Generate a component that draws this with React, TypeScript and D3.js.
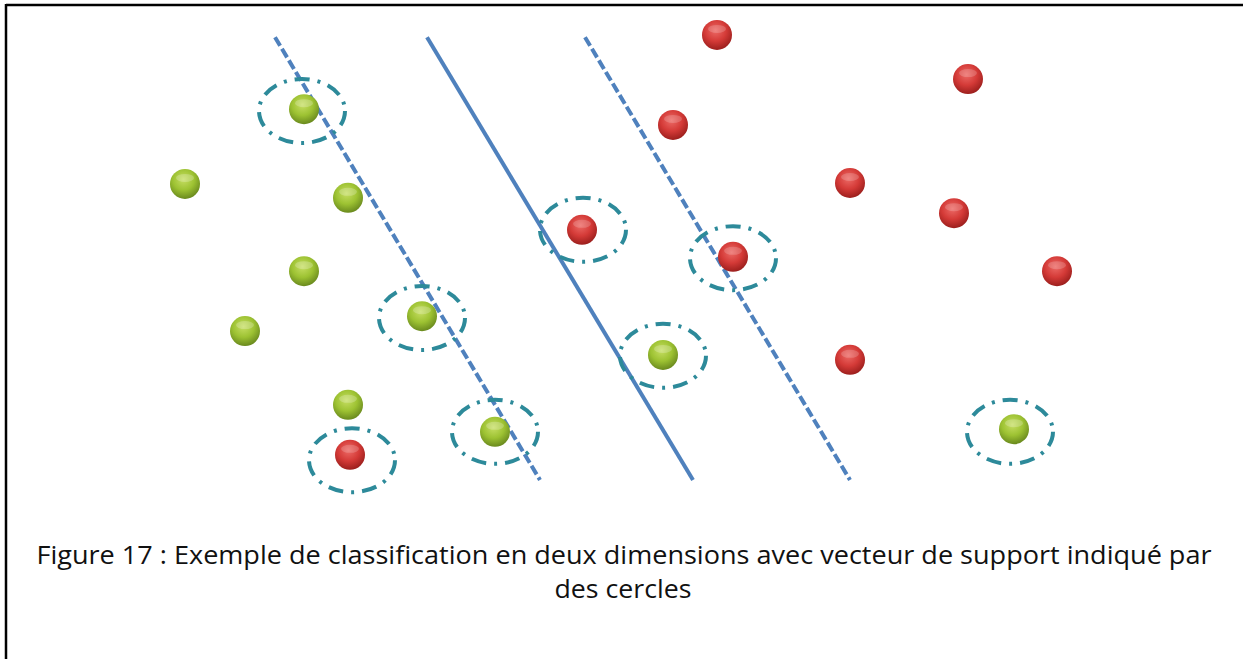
import * as d3 from 'd3';

// abstract 2D feature space, 0..10 on both axes
const greenPoints: [number, number][] = [
  [2.04, 8.24], [0.85, 6.58], [2.48, 6.27], [2.04, 4.64], [1.45, 3.31],
  [3.22, 3.64], [2.48, 1.67], [3.95, 1.07], [5.63, 2.78], [9.14, 1.13],
];
const redPoints: [number, number][] = [
  [6.17, 9.89], [8.68, 8.91], [5.73, 7.89], [7.5, 6.6], [8.54, 5.93],
  [4.82, 5.56], [6.33, 4.96], [9.57, 4.64], [7.5, 2.67], [2.5, 0.56],
];
// rings around the support vectors
const supportVectors: [number, number][] = [
  [2.02, 8.2], [3.22, 3.6], [3.95, 1.07], [4.83, 5.56],
  [6.33, 4.93], [5.63, 2.76], [2.52, 0.44], [9.1, 1.07],
];
// separating hyperplane and the two margins: [x at top, x at bottom]
const boundaries = [
  { name: 'margin-left', top: 1.75, bottom: 4.4, dashed: true },
  { name: 'hyperplane', top: 3.27, bottom: 5.93, dashed: false },
  { name: 'margin-right', top: 4.85, bottom: 7.5, dashed: true },
];
const yTop = 9.84;
const yBottom = 0;

const captionLines = [
  'Figure 17 : Exemple de classification en deux dimensions avec vecteur de support indiqué par',
  'des cercles',
];

const W = 1243;
const H = 659;

export default function App() {
  const x = d3.scaleLinear().domain([0, 10]).range([100, 1100]);
  const y = d3.scaleLinear().domain([0, 10]).range([480, 30]);
  const r = 15;
  const ringRx = 43;
  const ringRy = 32;

  const line = d3.line<[number, number]>().x(d => x(d[0])).y(d => y(d[1]));

  return (
    <svg width={W} height={H} style={{ position: 'absolute', left: 0, top: 0, background: '#fff' }}>
      <defs>
        <radialGradient id="gGreen" cx="45%" cy="35%" r="65%">
          <stop offset="0%" stopColor="#c6de63" />
          <stop offset="55%" stopColor="#9dc232" />
          <stop offset="100%" stopColor="#6a8a1e" />
        </radialGradient>
        <radialGradient id="gRed" cx="45%" cy="35%" r="65%">
          <stop offset="0%" stopColor="#ec6a66" />
          <stop offset="55%" stopColor="#d43a37" />
          <stop offset="100%" stopColor="#9c1f1d" />
        </radialGradient>
      </defs>
      {/* frame (top and left edges visible) */}
      <line x1={6} y1={5} x2={W} y2={5} stroke="#000" strokeWidth={2.5} />
      <line x1={6} y1={4} x2={6} y2={H} stroke="#000" strokeWidth={2.5} />

      {boundaries.map(b => (
        <path
          key={b.name}
          d={line([[b.top, yTop], [b.bottom, yBottom]]) || ''}
          stroke="#4f81bd"
          strokeWidth={4}
          strokeDasharray={b.dashed ? '10 3.5' : undefined}
          fill="none"
        />
      ))}

      {greenPoints.map((p, i) => (
        <g key={'g' + i}>
          <circle cx={x(p[0])} cy={y(p[1])} r={r} fill="url(#gGreen)" />
          <ellipse cx={x(p[0])} cy={y(p[1]) - 6} rx={9} ry={4} fill="#fff" opacity={0.22} />
        </g>
      ))}
      {redPoints.map((p, i) => (
        <g key={'r' + i}>
          <circle cx={x(p[0])} cy={y(p[1])} r={r} fill="url(#gRed)" />
          <ellipse cx={x(p[0])} cy={y(p[1]) - 6} rx={9} ry={4} fill="#fff" opacity={0.18} />
        </g>
      ))}

      {supportVectors.map((p, i) => (
        <ellipse
          key={'sv' + i}
          cx={x(p[0])}
          cy={y(p[1])}
          rx={ringRx}
          ry={ringRy}
          fill="none"
          stroke="#2d8a9a"
          strokeWidth={4}
          strokeDasharray="15 8 3 8"
          strokeLinecap="butt"
        />
      ))}

      <g fontFamily="'Open Sans', 'Noto Sans', sans-serif" fontSize={25} fill="#111" textAnchor="middle">
        <text x={624} y={564} textLength={1175} lengthAdjust="spacingAndGlyphs">{captionLines[0]}</text>
        <text x={623} y={598} textLength={137} lengthAdjust="spacingAndGlyphs">{captionLines[1]}</text>
      </g>
    </svg>
  );
}
